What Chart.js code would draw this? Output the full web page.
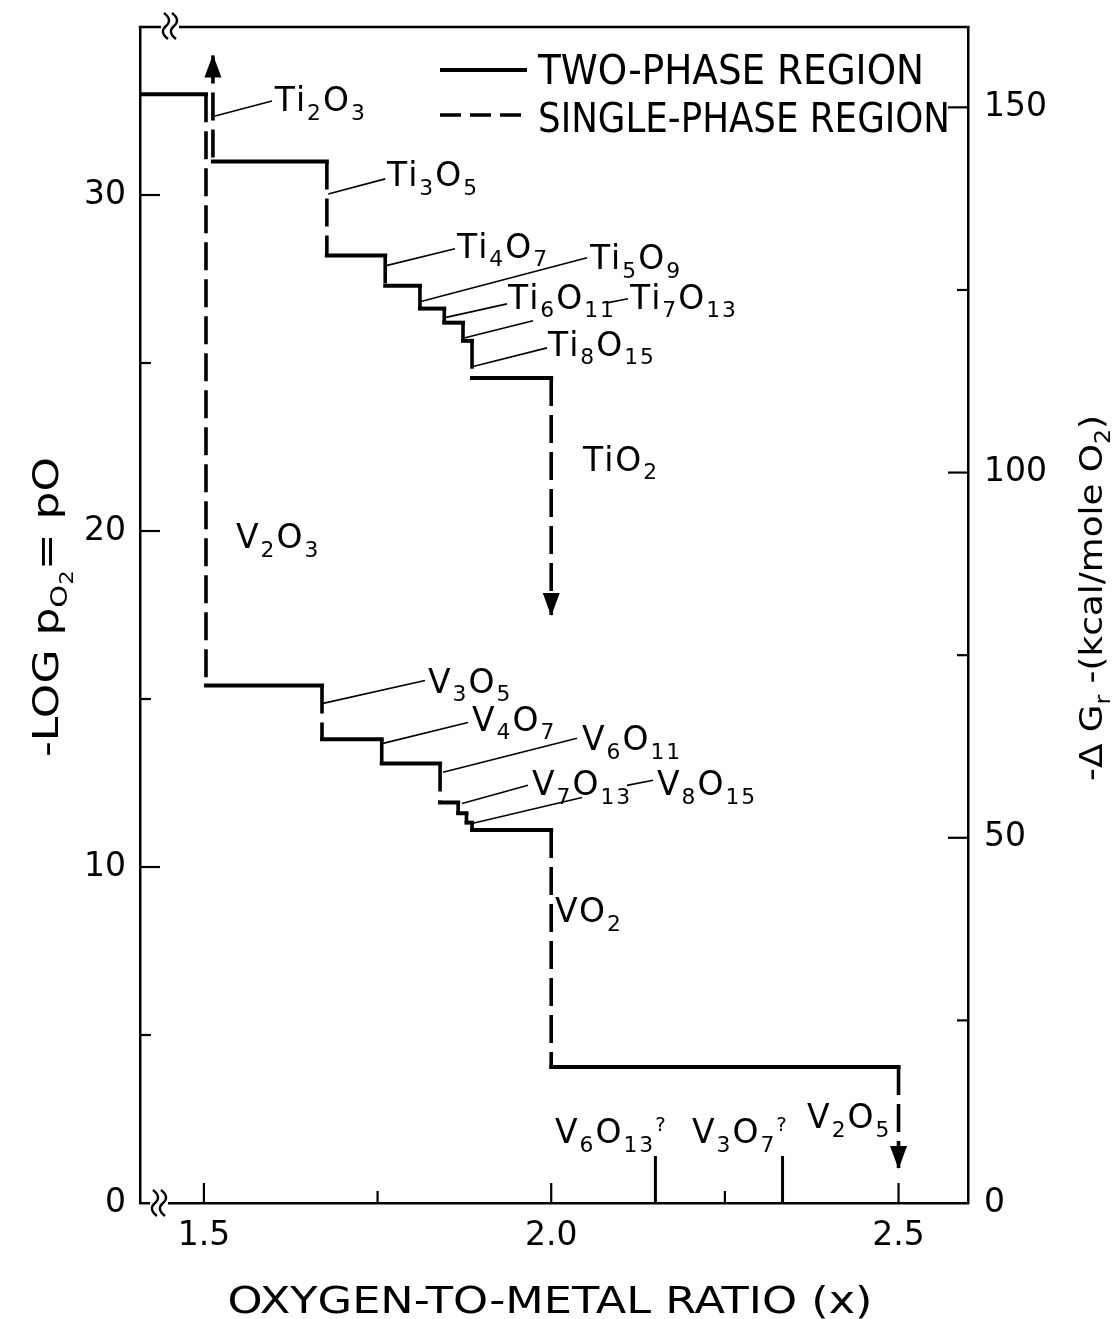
<!DOCTYPE html>
<html><head><meta charset="utf-8">
<script src="https://cdn.jsdelivr.net/npm/chart.js@4.4.1/dist/chart.umd.min.js"></script>
<style>html,body{margin:0;padding:0;background:#fff}canvas{display:block}</style>
</head><body>
<canvas id="c" width="1117" height="1319"></canvas>
<script>
// ---------- DATA ----------
// Ti-O system: oxygen-to-metal ratio (x) vs -log pO2
const tiX = [1.513, 1.513, 1.677, 1.677, 1.761, 1.761, 1.811, 1.811, 1.846, 1.846, 1.873, 1.873, 1.886, 1.886, 2.0, 2.0];
const tiY = [34.15, 31.0, 31.0, 28.2, 28.2, 27.3, 27.3, 26.62, 26.62, 26.2, 26.2, 25.66, 25.66, 24.55, 24.55, 17.5];
// V-O system
const vX = [1.408, 1.503, 1.503, 1.670, 1.670, 1.756, 1.756, 1.840, 1.840, 1.866, 1.866, 1.878, 1.878, 1.886, 1.886, 2.0, 2.0, 2.5, 2.5];
const vY = [33.0, 33.0, 15.4, 15.4, 13.8, 13.8, 13.08, 13.08, 11.92, 11.92, 11.6, 11.6, 11.32, 11.32, 11.1, 11.1, 4.05, 4.05, 1.04];
// uncertain phases marked by short vertical bars
const markX = [2.15, 2.333];
const markTop = [1.4, 1.4];
// axes
const xTicks = [1.5, 1.75, 2.0, 2.25, 2.5];
const xTickLabels = ['1.5', '', '2.0', '', '2.5'];
const yTicks = [0, 5, 10, 15, 20, 25, 30];
const yTickLabels = ['0', '', '10', '', '20', '', '30'];
const y2Ticks = [0, 25, 50, 75, 100, 125, 150];
const y2TickLabels = ['0', '', '50', '', '100', '', '150'];
const xRange = [1.408, 2.6];
const yRange = [0, 35];
const y2Range = [0, 161];
// phase labels (markup: _n subscript, ^c superscript)
const phaseNames = ['Ti_2O_3', 'Ti_3O_5', 'Ti_4O_7', 'Ti_5O_9', 'Ti_6O_{11}', 'Ti_7O_{13}', 'Ti_8O_{15}', 'TiO_2',
  'V_2O_3', 'V_3O_5', 'V_4O_7', 'V_6O_{11}', 'V_7O_{13}', 'V_8O_{15}', 'VO_2', 'V_6O_{13}^?', 'V_3O_7^?', 'V_2O_5'];
const legendNames = ['TWO-PHASE REGION', 'SINGLE-PHASE REGION'];
const xTitle = 'OXYGEN-TO-METAL RATIO (x)';
const yTitle = '-LOG p_{O_2}= pO';
const y2Title = '-\u0394 G_r -(kcal/mole O_2)';

// ---------- LAYOUT (label anchors in data units) ----------
const labelPos = [
  [1.602, 32.50], [1.7636, 30.27], [1.8644, 28.13], [2.0558, 27.80], [1.9378, 26.61], [2.1134, 26.61], [1.9954, 25.22], [2.0458, 21.80],
  [1.5462, 19.48], [1.8226, 15.19], [1.886, 14.06], [2.0443, 13.47], [1.9724, 12.13], [2.1523, 12.13], [2.0055, 8.36], [2.0055, 1.78], [2.2027, 1.78], [2.3683, 2.23]
];
const leaders = [
  [1.516, 32.35, 1.598, 32.80], [1.679, 30.03, 1.761, 30.48], [1.761, 27.89, 1.8615, 28.40], [1.8111, 26.82, 2.0515, 28.13],
  [1.8471, 26.35, 1.9364, 26.76], [1.8759, 25.75, 1.9738, 26.26], [2.0803, 26.79, 2.1105, 26.91], [1.886, 24.89, 1.994, 25.45],
  [1.6715, 14.87, 1.8183, 15.55], [1.7578, 13.68, 1.8802, 14.30], [1.8442, 12.82, 2.0371, 13.83], [1.8716, 11.89, 1.9666, 12.43],
  [1.8874, 11.30, 2.0443, 12.07], [2.1091, 12.43, 2.1466, 12.58]
];

const FONT = '"DejaVu Sans", "Liberation Sans", sans-serif';
const DASH = [28, 9];

function parseRich(s, lvl, out) {
  lvl = lvl || 0; out = out || [];
  let i = 0, buf = '';
  const flush = () => { if (buf) { out.push({ t: buf, lvl }); buf = ''; } };
  while (i < s.length) {
    const ch = s[i];
    if (ch === '_' || ch === '^') {
      flush();
      const nl = ch === '_' ? lvl + 1 : -1;
      i++;
      if (s[i] === '{') {
        let depth = 1, j = i + 1;
        while (j < s.length && depth) { if (s[j] === '{') depth++; else if (s[j] === '}') depth--; j++; }
        parseRich(s.slice(i + 1, j - 1), nl, out);
        i = j;
      } else {
        let j = i;
        if (/\d/.test(s[j])) { while (j < s.length && /\d/.test(s[j])) j++; } else j++;
        out.push({ t: s.slice(i, j), lvl: nl });
        i = j;
      }
    } else { buf += ch; i++; }
  }
  flush();
  return out;
}
function drawRich(c, str, x, y, o) {
  const size = o.size, ls = o.ls || 0;
  const pieces = parseRich(str).map(p => {
    let f = 1, dy = 0;
    if (p.lvl === 1) { f = 0.66; dy = 0.26 * size; }
    else if (p.lvl >= 2) { f = 0.52; dy = 0.42 * size; }
    else if (p.lvl === -1) { f = 0.6; dy = -0.36 * size; }
    return Object.assign({}, p, { fs: size * f, dy });
  });
  c.save();
  c.translate(x, y);
  if (o.rot) c.rotate(o.rot);
  c.textBaseline = 'alphabetic';
  c.textAlign = 'left';
  let W = 0;
  pieces.forEach(p => {
    c.font = p.fs.toFixed(1) + 'px ' + FONT;
    try { c.letterSpacing = ls + 'px'; } catch (e) {}
    p.w = c.measureText(p.t).width;
    W += p.w;
  });
  let sx = 1;
  if (o.width) sx = o.width / W;
  c.scale(sx, 1);
  let cx = o.align === 'center' ? -W / 2 : 0;
  pieces.forEach(p => {
    c.font = p.fs.toFixed(1) + 'px ' + FONT;
    try { c.letterSpacing = ls + 'px'; } catch (e) {}
    c.fillText(p.t, cx, p.dy);
    cx += p.w;
  });
  c.restore();
}

// build one 2-point dataset per step segment: vertical = single-phase (dashed), horizontal = two-phase (solid)
function stepDatasets(name, xs, ys) {
  const out = [];
  for (let i = 0; i < xs.length - 1; i++) {
    const vertical = xs[i] === xs[i + 1];
    out.push({
      label: name + ' ' + i, data: [{ x: xs[i], y: ys[i] }, { x: xs[i + 1], y: ys[i + 1] }],
      showLine: true, borderColor: '#000', backgroundColor: '#000',
      borderWidth: vertical ? 3.6 : 4, borderDash: vertical ? DASH : [],
      borderCapStyle: vertical ? 'butt' : 'square', pointRadius: 0, tension: 0, yAxisID: 'y'
    });
  }
  return out;
}
const tiSets = stepDatasets('Ti-O', tiX, tiY);
const vSets = stepDatasets('V-O', vX, vY);
const markSets = markX.map((x, i) => ({
  label: 'mark ' + i, data: [{ x, y: 0 }, { x, y: markTop[i] }], showLine: true,
  borderColor: '#000', borderWidth: 3, pointRadius: 0, borderCapStyle: 'butt', yAxisID: 'y'
}));
const datasets = [...tiSets, ...vSets, ...markSets];

const decor = {
  id: 'decor',
  beforeDraw(chart) {
    const c = chart.ctx;
    c.save(); c.fillStyle = '#fff'; c.fillRect(0, 0, chart.width, chart.height); c.restore();
  },
  afterDraw(chart) {
    const c = chart.ctx, a = chart.chartArea;
    const X = chart.scales.x, Y = chart.scales.y, Y2 = chart.scales.y2;
    const px = v => X.getPixelForValue(v), py = v => Y.getPixelForValue(v);
    c.save();
    c.strokeStyle = '#000'; c.fillStyle = '#000'; c.lineCap = 'butt';
    const seg = (x1, y1, x2, y2) => { c.beginPath(); c.moveTo(x1, y1); c.lineTo(x2, y2); c.stroke(); };
    // top frame
    c.lineWidth = 2.5;
    seg(a.left - 1.25, a.top, a.right + 1.25, a.top);
    // inward ticks
    c.lineWidth = 2.2;
    xTicks.forEach((v, i) => { const L = xTickLabels[i] ? 20 : 12; seg(px(v), a.bottom, px(v), a.bottom - L); });
    yTicks.forEach((v, i) => { if (v === 0) return; const L = yTickLabels[i] ? 20 : 11; seg(a.left, py(v), a.left + L, py(v)); });
    y2Ticks.forEach((v, i) => { if (v === 0) return; const L = y2TickLabels[i] ? 20 : 11; const yy = Y2.getPixelForValue(v); seg(a.right, yy, a.right - L, yy); });
    // axis break marks
    const brk = (cx, cy) => {
      c.fillStyle = '#fff'; c.fillRect(cx - 5, cy - 3, 18, 6); c.fillStyle = '#000';
      c.lineWidth = 2.4;
      [cx, cx + 8].forEach(bx => {
        c.beginPath(); c.moveTo(bx - 2, cy - 13);
        c.quadraticCurveTo(bx + 7, cy - 6, bx, cy);
        c.quadraticCurveTo(bx - 7, cy + 6, bx + 2, cy + 13);
        c.stroke();
      });
    };
    brk(a.left + 26, a.top - 1);
    brk(a.left + 15, a.bottom);
    // arrowheads at the open ends of the Ti and V curves
    const arrow = (tip, from) => {
      const dx = tip.x - from.x, dy = tip.y - from.y, d = Math.hypot(dx, dy) || 1;
      const ux = dx / d, uy = dy / d, L = 22, H = 8.5;
      c.beginPath();
      c.moveTo(tip.x + ux * 1, tip.y + uy * 1);
      c.lineTo(tip.x - ux * L - uy * H, tip.y - uy * L + ux * H);
      c.lineTo(tip.x - ux * L + uy * H, tip.y - uy * L - ux * H);
      c.closePath(); c.fill();
    };
    const tiFirst = chart.getDatasetMeta(0).data;
    const tiLast = chart.getDatasetMeta(tiSets.length - 1).data;
    const vLast = chart.getDatasetMeta(tiSets.length + vSets.length - 1).data;
    arrow(tiFirst[0], tiFirst[1]);
    arrow(tiLast[1], tiLast[0]);
    arrow(vLast[1], vLast[0]);
    // leader lines
    c.lineWidth = 1.6;
    leaders.forEach(l => seg(px(l[0]), py(l[1]), px(l[2]), py(l[3])));
    // phase labels
    phaseNames.forEach((t, i) => drawRich(c, t, px(labelPos[i][0]), py(labelPos[i][1]), { size: 33, ls: 2 }));
    // legend
    c.lineWidth = 4;
    seg(440, 70, 527, 70);
    c.setLineDash([21, 9]); c.lineWidth = 3.5;
    seg(440, 115, 527, 115);
    c.setLineDash([]);
    drawRich(c, legendNames[0], 538, 84, { size: 40, width: 386 });
    drawRich(c, legendNames[1], 538, 132, { size: 40, width: 412 });
    // axis titles
    drawRich(c, xTitle, 550, 1313, { size: 38, width: 645, align: 'center' });
    drawRich(c, yTitle, 58, 607, { size: 36, width: 300, align: 'center', rot: -Math.PI / 2 });
    drawRich(c, y2Title, 1102, 598, { size: 32, width: 366, align: 'center', rot: -Math.PI / 2 });
    c.restore();
  }
};

const tickFont = { family: FONT, size: 33 };
const fixedTicks = (vals) => (s) => { s.ticks = vals.map(v => ({ value: v })); };
const noPad = (s) => { s.paddingTop = 0; s.paddingBottom = 0; s.paddingLeft = 0; s.paddingRight = 0; };

new Chart(document.getElementById('c').getContext('2d'), {
  type: 'scatter',
  data: { datasets },
  options: {
    responsive: false, animation: false,
    layout: { padding: { top: 27, left: 0, right: 0, bottom: 0 } },
    plugins: { legend: { display: false }, tooltip: { enabled: false } },
    scales: {
      x: {
        type: 'linear', position: 'bottom', min: xRange[0], max: xRange[1],
        afterBuildTicks: fixedTicks(xTicks),
        afterFit: s => { s.height = 116; noPad(s); },
        ticks: { autoSkip: false, maxRotation: 0, padding: 14, color: '#000', font: tickFont, callback: (v, i) => xTickLabels[i] },
        grid: { display: false, drawTicks: false },
        border: { display: true, color: '#000', width: 2.5 }
      },
      y: {
        type: 'linear', position: 'left', min: yRange[0], max: yRange[1],
        afterBuildTicks: fixedTicks(yTicks),
        afterFit: s => { s.width = 140; noPad(s); },
        ticks: { autoSkip: false, padding: 14, color: '#000', font: tickFont, callback: (v, i) => yTickLabels[i] },
        grid: { display: false, drawTicks: false },
        border: { display: true, color: '#000', width: 2.5 }
      },
      y2: {
        type: 'linear', position: 'right', min: y2Range[0], max: y2Range[1],
        afterBuildTicks: fixedTicks(y2Ticks),
        afterFit: s => { s.width = 149; noPad(s); },
        ticks: { autoSkip: false, padding: 16, color: '#000', font: tickFont, callback: (v, i) => y2TickLabels[i] },
        grid: { display: false, drawTicks: false },
        border: { display: true, color: '#000', width: 2.5 }
      }
    }
  },
  plugins: [decor]
});
</script>
</body></html>
